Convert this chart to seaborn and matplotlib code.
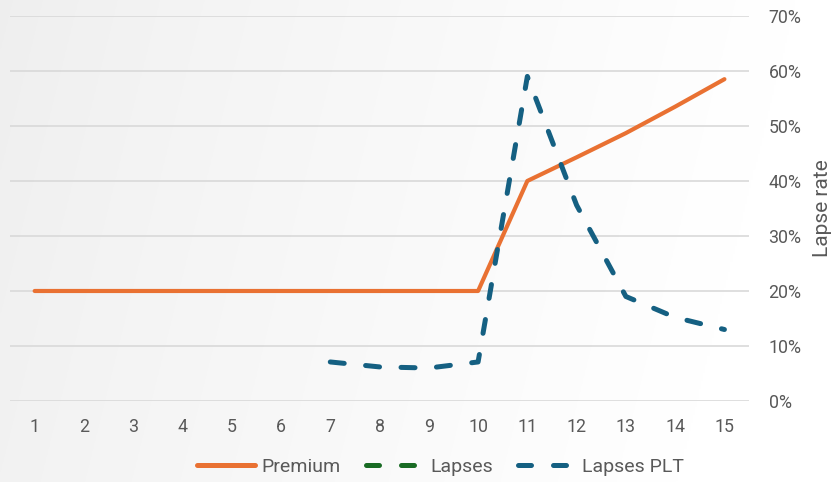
import numpy as np
import pandas as pd
import matplotlib
matplotlib.use("Agg")
import matplotlib.pyplot as plt
import seaborn as sns
from matplotlib.lines import Line2D
from matplotlib.ticker import PercentFormatter

# Policy years and series values
years = list(range(1, 16))
premium = [0.20, 0.20, 0.20, 0.20, 0.20, 0.20, 0.20, 0.20, 0.20, 0.20,
           0.40, 0.443, 0.487, 0.535, 0.585]
lapses = [np.nan] * 15
lapses_plt = [np.nan, np.nan, np.nan, np.nan, np.nan, np.nan,
              0.071, 0.062, 0.060, 0.071, 0.590, 0.356, 0.190, 0.152, 0.130]
y_ticks = [0.0, 0.1, 0.2, 0.3, 0.4, 0.5, 0.6, 0.7]

ORANGE = "#E97132"
GREEN = "#196B24"
BLUE = "#156082"
TEXT = "#595959"
GRID = "#D9D9D9"

df = pd.DataFrame({"year": years, "Premium": premium,
                   "Lapses": lapses, "Lapses PLT": lapses_plt})

sns.set_theme(style="white")
plt.rcParams["font.family"] = ["Roboto", "DejaVu Sans"]

fig = plt.figure(figsize=(8.36, 4.82), dpi=100)

# soft grey-to-white background
bg = fig.add_axes([0, 0, 1, 1], zorder=-10)
gx, gy = np.meshgrid(np.linspace(0, 1, 400), np.linspace(1, 0, 240))
t = np.clip(gx * 1.05 + (1 - gy) * 0.15, 0, 1)
shade = 0.935 + (1.0 - 0.935) * t ** 0.8
bg.imshow(np.dstack([shade, shade, shade]), aspect="auto", extent=[0, 1, 0, 1])
bg.set_axis_off()

ax = fig.add_axes([0.012, 0.168, 0.884, 0.799])
ax.set_facecolor("none")

sns.lineplot(data=df, x="year", y="Premium", color=ORANGE, linewidth=3.0,
             ax=ax, solid_capstyle="round", solid_joinstyle="round")
ax.plot(df["year"], df["Lapses"], color=GREEN, linewidth=3.6)
sns.lineplot(data=df, x="year", y="Lapses PLT", color=BLUE, linewidth=3.6, ax=ax)

dash = (0, (2.8, 4.3))
for ln in ax.lines[1:]:
    ln.set_linestyle(dash)
    ln.set_dash_capstyle("round")
    ln.set_dash_joinstyle("round")

ax.set_xlim(0.5, 15.5)
ax.set_ylim(0, 0.7)
ax.set_xticks(years)
ax.set_yticks(y_ticks)
ax.yaxis.set_major_formatter(PercentFormatter(1.0, decimals=0))
ax.yaxis.tick_right()
ax.yaxis.set_label_position("right")
ax.tick_params(axis="y", length=0, pad=14, labelsize=12.8, labelcolor=TEXT)
ax.tick_params(axis="x", length=0, pad=12, labelsize=12.8, labelcolor=TEXT)
ax.set_xlabel("")
ax.set_ylabel("Lapse rate", fontsize=15, color=TEXT, labelpad=8)
ax.grid(axis="y", color=GRID, linewidth=1.2)
ax.set_axisbelow(True)
for s in ax.spines.values():
    s.set_visible(False)

handles = [
    Line2D([], [], color=ORANGE, linewidth=3.6, solid_capstyle="round"),
    Line2D([], [], color=GREEN, linewidth=3.6, linestyle=(0, (2.6, 4.4)),
           dash_capstyle="round"),
    Line2D([], [], color=BLUE, linewidth=3.6, linestyle=(0, (2.6, 4.4)),
           dash_capstyle="round"),
]
fig.legend(handles, ["Premium", "Lapses", "Lapses PLT"],
           loc="center", bbox_to_anchor=(0.527, 0.031), ncol=3,
           frameon=False, fontsize=14, labelcolor=TEXT,
           handlelength=3.0, handletextpad=0.3, columnspacing=1.3)

fig.savefig("out.png", dpi=100)
